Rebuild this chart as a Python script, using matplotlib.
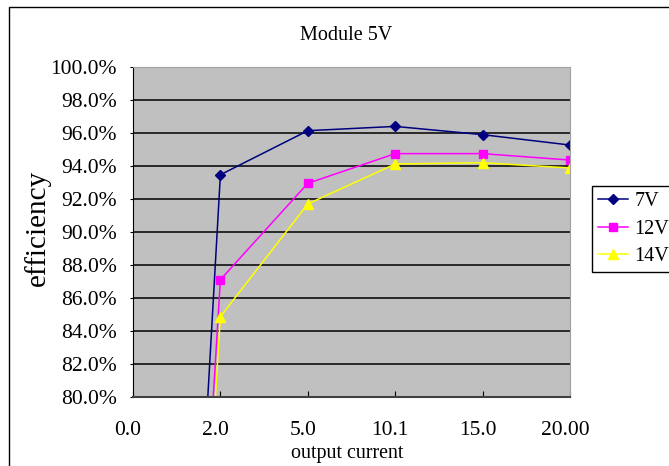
import matplotlib
matplotlib.use('Agg')
import matplotlib.pyplot as plt
import matplotlib.transforms as mtransforms
from matplotlib.patches import Rectangle
from matplotlib.ticker import PercentFormatter

# output current categories and efficiency (%) per input voltage
currents = ["0.0", "2.0", "5.0", "10.1", "15.0", "20.00"]
eff_7v = [0.0, 93.47, 96.14, 96.40, 95.90, 95.27]
eff_12v = [0.0, 87.11, 92.95, 94.75, 94.75, 94.36]
eff_14v = [0.0, 84.87, 91.70, 94.12, 94.20, 93.88]

W, H = 669, 466
fig = plt.figure(figsize=(W / 100, H / 100), dpi=100)
fig.patch.set_facecolor('white')

# chart frame (left and top edges visible)
fig.patches.append(Rectangle((9 / W, -0.1), 1.2, 1.1 - 7 / H,
                             transform=fig.transFigure, fill=False,
                             edgecolor='black', linewidth=1.0))

ax = fig.add_axes([133 / W, 1 - 397 / H, (570 - 133) / W, (397 - 67) / H])
ax.set_facecolor('#C0C0C0')

x = list(range(len(currents)))
ax.plot(x, eff_7v, color='#000080', lw=1.1, marker='D', ms=5, label='7V')
ax.plot(x, eff_12v, color='#FF00FF', lw=1.1, marker='s', ms=6, label='12V')
ax.plot(x, eff_14v, color='#FFFF00', lw=1.1, marker='^', ms=7, label='14V')

ax.set_xlim(0, len(currents) - 1)
ax.set_ylim(80, 100)
ax.set_yticks(range(80, 101, 2))
ax.yaxis.set_major_formatter(PercentFormatter(xmax=100, decimals=1))
ax.set_xticks(x)
ax.set_xticklabels(currents)
ax.yaxis.grid(True, color='black', lw=1.1)
ax.set_axisbelow(True)

for lab in ax.get_yticklabels() + ax.get_xticklabels():
    lab.set_fontfamily('Liberation Serif')
    lab.set_fontsize(15.5)
ax.tick_params(axis='y', direction='out', length=2, pad=9.5, colors='black')
ax.tick_params(axis='x', direction='in', length=4, pad=17, colors='black')

# shift category labels slightly left
shift = mtransforms.ScaledTranslation(-5 / 100, 0, fig.dpi_scale_trans)
for lab in ax.get_xticklabels():
    lab.set_transform(lab.get_transform() + shift)

ax.spines['left'].set_color('black')
ax.spines['bottom'].set_color('#404040')
ax.spines['bottom'].set_linewidth(1.5)
ax.spines['top'].set_color('#A0A0A0')
ax.spines['right'].set_color('#A0A0A0')

fig.text(346 / W, 1 - 40 / H, 'Module 5V', ha='center', va='baseline',
         fontfamily='Liberation Serif', fontsize=14.5)
fig.text(347 / W, 1 - 458 / H, 'output current', ha='center', va='baseline',
         fontfamily='Liberation Serif', fontsize=14.4)
fig.text(37 / W, 1 - 228 / H, 'efficiency', ha='center', va='center',
         rotation=90, fontfamily='Liberation Serif', fontsize=21)

leg = ax.legend(loc='upper left', bbox_to_anchor=(592 / W, 1 - 186 / H),
                bbox_transform=fig.transFigure, borderaxespad=0,
                fancybox=False, framealpha=1, edgecolor='black',
                prop={'family': 'Liberation Serif', 'size': 14.5},
                handlelength=1.5, handletextpad=0.3, borderpad=0.3,
                labelspacing=0.42, numpoints=1)
leg.get_frame().set_linewidth(1.0)

fig.savefig('out.png', dpi=100)
